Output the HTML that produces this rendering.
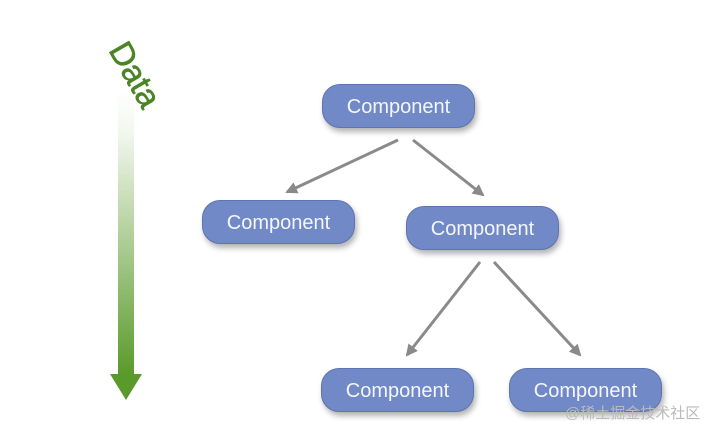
<!DOCTYPE html>
<html><head><style>
body{margin:0;width:715px;height:435px;background:#fff;position:relative;overflow:hidden;font-family:"Liberation Sans",sans-serif}
.c{position:absolute;width:153px;height:44px;border-radius:18px;background:#7189c6;border:1px solid #5d74b0;box-shadow:2px 4px 6px rgba(0,0,0,.3);color:#f4f6fb;font-size:20px;line-height:44px;text-align:center;box-sizing:border-box}
</style></head><body>
<svg width="715" height="435" style="position:absolute;left:0;top:0">
<defs>
<linearGradient id="g" x1="0" y1="0" x2="0" y2="1"><stop offset="0" stop-color="#fff"/><stop offset="0.15" stop-color="#f2f7ee"/><stop offset="1" stop-color="#5a9a2a"/></linearGradient>
<marker id="a" markerWidth="12" markerHeight="12" refX="10" refY="6" orient="auto" markerUnits="userSpaceOnUse"><path d="M0,0 L12,6 L0,12 z" fill="#8a8a8a"/></marker>
</defs>
<rect x="118" y="90" width="16" height="285" fill="url(#g)"/>
<path d="M110,374 L142,374 L126,400 z" fill="#5a9a2a"/>
<g stroke="#8a8a8a" stroke-width="3" marker-end="url(#a)">
<line x1="398" y1="140" x2="287" y2="192"/>
<line x1="413" y1="140" x2="483" y2="195"/>
<line x1="480" y1="262" x2="407" y2="355"/>
<line x1="494" y1="262" x2="580" y2="355"/>
</g>
<text x="0" y="0" transform="translate(108,50) rotate(60)" font-size="33" fill="#4a8523" font-family="Liberation Sans" stroke="#4a8523" stroke-width=".6">Data</text>
</svg>
<div class="c" style="left:322px;top:84px">Component</div>
<div class="c" style="left:202px;top:200px">Component</div>
<div class="c" style="left:406px;top:206px">Component</div>
<div class="c" style="left:321px;top:368px">Component</div>
<div class="c" style="left:509px;top:368px">Component</div>
<div style="position:absolute;left:565px;top:402px;font-size:15px;color:#bbb;font-family:'Liberation Sans','Noto Sans CJK SC',sans-serif">@稀土掘金技术社区</div>
</body></html>
